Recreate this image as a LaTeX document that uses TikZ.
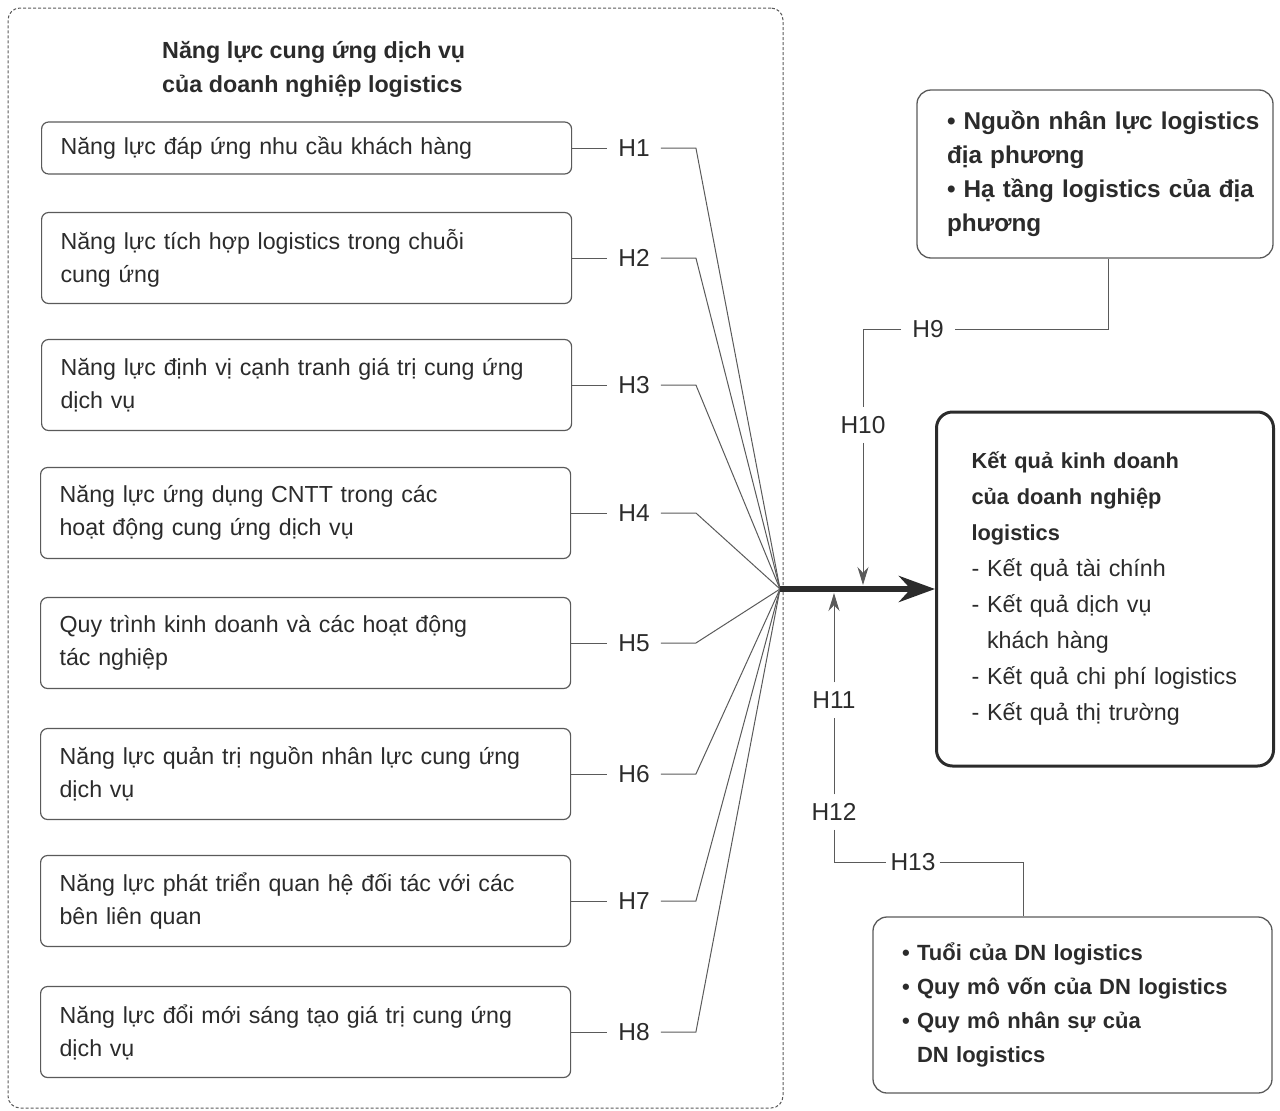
\documentclass[tikz,border=0pt]{standalone}
\usepackage{fontspec}
\setmainfont{Liberation Sans}
\usetikzlibrary{positioning, arrows.meta, calc}
\definecolor{ink}{HTML}{2B2B2B}
\definecolor{edge}{HTML}{5A5A5A}
\newcommand{\kqhead}[1]{{\bfseries\fontsize{21.8}{36}\selectfont #1}}
\hyphenpenalty=10000
\exhyphenpenalty=10000

\begin{document}
\begin{tikzpicture}[
    x=1pt, y=-1pt,
    every node/.style={text=ink, font=\fontsize{23.2}{33}\selectfont},
    box/.style={rectangle, draw=edge, line width=1.2pt, rounded corners=7pt, minimum width=530pt, text width=492pt, inner xsep=19pt, align=left, anchor=west},
    onebox/.style={box, minimum height=52pt},
    twobox/.style={box, minimum height=91pt},
    hyp/.style={inner xsep=11pt, inner ysep=4pt, font=\fontsize{24.5}{30}\selectfont},
    vhyp/.style={inner xsep=2pt, inner ysep=9pt, font=\fontsize{24.5}{30}\selectfont},
    link/.style={draw=edge, line width=1pt},
    tip/.style={link, -{Stealth[length=18pt, width=11pt]}},
    bigarrow/.style={draw=ink, line width=6pt, -{Stealth[length=36pt, width=26pt]}},
    outer/.style={rectangle, draw=edge, line width=1pt, dash pattern=on 3pt off 2pt, rounded corners=12pt},
    factor/.style={rectangle, draw=edge, line width=1.3pt, rounded corners=14pt, align=left},
    result/.style={rectangle, draw=ink, line width=3pt, rounded corners=16pt, align=left, font=\fontsize{23.3}{36}\selectfont}
]
    \useasboundingbox (0,0) rectangle (1280,1111);

    % Dashed frame round the left group
    \node[outer, minimum width=775pt, minimum height=1100pt] (frame) at (395.5,558) {};
    \node[anchor=base west, align=left, inner sep=0pt, font=\bfseries\fontsize{23.3}{34}\selectfont] (title) at (162,92) {Năng lực cung ứng dịch vụ\\của doanh nghiệp logistics};

    % Capability boxes
    \node[onebox] (b1) at (41,148) {Năng lực đáp ứng nhu cầu khách hàng};
    \node[twobox] (b2) at (41,258) {Năng lực tích hợp logistics trong chuỗi\\cung ứng};
    \node[twobox] (b3) at (41,385) {Năng lực định vị cạnh tranh giá trị cung ứng\\dịch vụ};
    \node[twobox] (b4) at (40,513) {Năng lực ứng dụng CNTT trong các\\hoạt động cung ứng dịch vụ};
    \node[twobox] (b5) at (40,643) {Quy trình kinh doanh và các hoạt động\\tác nghiệp};
    \node[twobox] (b6) at (40,774) {Năng lực quản trị nguồn nhân lực cung ứng\\dịch vụ};
    \node[twobox] (b7) at (40,901) {Năng lực phát triển quan hệ đối tác với các\\bên liên quan};
    \node[twobox] (b8) at (40,1032) {Năng lực đổi mới sáng tạo giá trị cung ứng\\dịch vụ};

    % Hypothesis labels
    \node[hyp, right=35pt of b1] (h1) {H1};
    \node[hyp, right=35pt of b2] (h2) {H2};
    \node[hyp, right=35pt of b3] (h3) {H3};
    \node[hyp, right=36pt of b4] (h4) {H4};
    \node[hyp, right=36pt of b5] (h5) {H5};
    \node[hyp, right=36pt of b6] (h6) {H6};
    \node[hyp, right=36pt of b7] (h7) {H7};
    \node[hyp, right=36pt of b8] (h8) {H8};

    % Meeting point of the eight lines
    \coordinate (hub) at (780,589);

    \draw[link] (b1.east) -- (h1.west);
    \draw[link] (b2.east) -- (h2.west);
    \draw[link] (b3.east) -- (h3.west);
    \draw[link] (b4.east) -- (h4.west);
    \draw[link] (b5.east) -- (h5.west);
    \draw[link] (b6.east) -- (h6.west);
    \draw[link] (b7.east) -- (h7.west);
    \draw[link] (b8.east) -- (h8.west);
    \draw[link] (h1.east) -- ++(35,0) -- (hub);
    \draw[link] (h2.east) -- ++(35,0) -- (hub);
    \draw[link] (h3.east) -- ++(35,0) -- (hub);
    \draw[link] (h4.east) -- ++(35,0) -- (hub);
    \draw[link] (h5.east) -- ++(35,0) -- (hub);
    \draw[link] (h6.east) -- ++(35,0) -- (hub);
    \draw[link] (h7.east) -- ++(35,0) -- (hub);
    \draw[link] (h8.east) -- ++(35,0) -- (hub);

    % Outcome box
    \node[result, minimum width=337pt, minimum height=354pt, text width=287pt, inner xsep=25pt, anchor=west] (res) at (935,589) {\leftskip=10pt \kqhead{Kết quả kinh doanh}\\\kqhead{của doanh nghiệp}\\\kqhead{logistics}\\- Kết quả tài chính\\- Kết quả dịch vụ\\\phantom{- }khách hàng\\- Kết quả chi phí logistics\\- Kết quả thị trường\par};
    \draw[bigarrow] (hub) -- (res.west);

    % Local factors
    \node[factor, minimum width=356pt, minimum height=168pt, text width=346pt, inner xsep=5pt, font=\bfseries\fontsize{24.3}{34}\selectfont] (loc) at (1095,174) {\leftskip=25pt • Nguồn nhân lực logistics\\địa phương\\• Hạ tầng logistics của địa\\phương\par};
    \node[hyp] (h9) at (928,329) {H9};
    \node[vhyp] (h10) at (863,425) {H10};
    \coordinate (t10) at (863,585);
    \draw[link] ([xshift=13pt]loc.south) |- (h9.east);
    \draw[link] (h9.west) -| (h10.north);
    \draw[tip] (h10.south) -- (t10);

    % Firm factors
    \node[factor, minimum width=399pt, minimum height=176pt, text width=341pt, inner xsep=29pt, font=\bfseries\fontsize{22}{34}\selectfont] (firm) at (1072.5,1005) {• Tuổi của DN logistics\\• Quy mô vốn của DN logistics\\• Quy mô nhân sự của\\\phantom{• }DN logistics};
    \node[vhyp] (h11) at (834,700) {H11};
    \node[vhyp] (h12) at (834,812) {H12};
    \node[hyp, inner xsep=4pt] (h13) at (913,862) {H13};
    \coordinate (t11) at (834,593);
    \draw[tip] (h11.north) -- (t11);
    \draw[link] (h12.north) -- (h11.south);
    \draw[link] (h12.south) |- (h13.west);
    \draw[link] (h13.east) -| ([xshift=-49.5pt]firm.north);
\end{tikzpicture}
\end{document}
